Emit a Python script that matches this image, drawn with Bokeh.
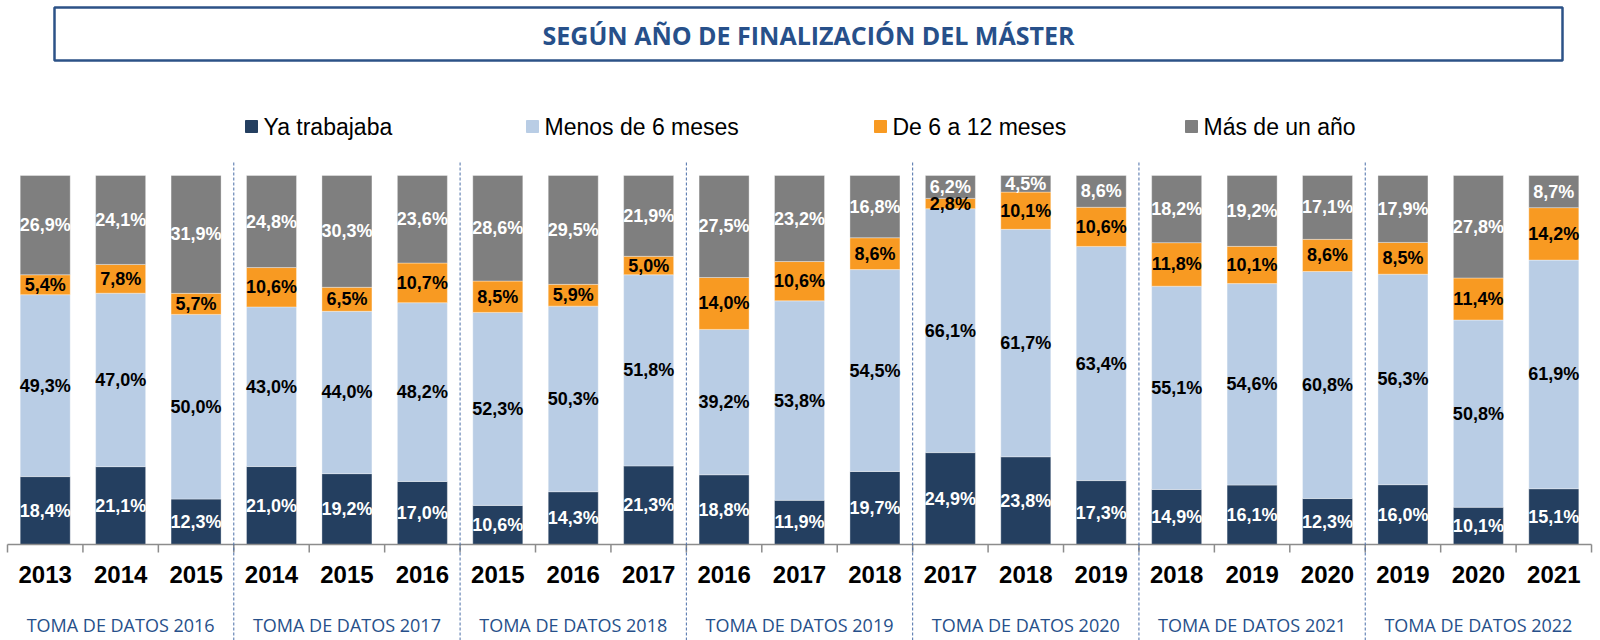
import numpy as np
from bokeh.plotting import figure
from bokeh.models import ColumnDataSource
from bokeh.core.properties import value
from bokeh.embed import file_html
from bokeh.resources import INLINE

# ---------------- data ----------------
title_text = "SEGÚN AÑO DE FINALIZACIÓN DEL MÁSTER"
series_names = ["Ya trabajaba", "Menos de 6 meses", "De 6 a 12 meses", "Más de un año"]
group_labels = ["TOMA DE DATOS 2016", "TOMA DE DATOS 2017", "TOMA DE DATOS 2018",
                "TOMA DE DATOS 2019", "TOMA DE DATOS 2020", "TOMA DE DATOS 2021",
                "TOMA DE DATOS 2022"]
years = ["2013", "2014", "2015", "2014", "2015", "2016", "2015", "2016", "2017",
         "2016", "2017", "2018", "2017", "2018", "2019", "2018", "2019", "2020",
         "2019", "2020", "2021"]
ya_trabajaba = [18.4, 21.1, 12.3, 21.0, 19.2, 17.0, 10.6, 14.3, 21.3, 18.8, 11.9,
                19.7, 24.9, 23.8, 17.3, 14.9, 16.1, 12.3, 16.0, 10.1, 15.1]
menos_6_meses = [49.3, 47.0, 50.0, 43.0, 44.0, 48.2, 52.3, 50.3, 51.8, 39.2, 53.8,
                 54.5, 66.1, 61.7, 63.4, 55.1, 54.6, 60.8, 56.3, 50.8, 61.9]
de_6_a_12 = [5.4, 7.8, 5.7, 10.6, 6.5, 10.7, 8.5, 5.9, 5.0, 14.0, 10.6,
             8.6, 2.8, 10.1, 10.6, 11.8, 10.1, 8.6, 8.5, 11.4, 14.2]
mas_de_un_ano = [26.9, 24.1, 31.9, 24.8, 30.3, 23.6, 28.6, 29.5, 21.9, 27.5, 23.2,
                 16.8, 6.2, 4.5, 8.6, 18.2, 19.2, 17.1, 17.9, 27.8, 8.7]

# ---------------- style / layout ----------------
colors = ["#243F60", "#B9CDE5", "#F89A22", "#7F7F7F"]
label_colors = ["white", "black", "black", "white"]
blue_text = "#27508A"

W, H = 1600, 640
OFF = 0            # observed page offset of the canvas
X0, CW = 7.0, 75.43   # page x of first category edge, category width (px)
Y0, PY = 544.0, 3.69  # page y of 0 %, px per %


def dx(px):
    return (px - X0) / CW


def dy(py):
    return (Y0 - py) / PY


p = figure(width=W, height=H, x_range=(dx(OFF), dx(OFF + W)),
           y_range=(dy(OFF + H), dy(OFF)), output_backend="svg",
           toolbar_location=None, x_axis_location=None, y_axis_location=None,
           min_border=0)
p.grid.visible = False
p.outline_line_color = None
p.background_fill_color = "white"
p.border_fill_color = "white"

n = len(years)
xs = np.arange(n) + 0.5
raw = np.array([ya_trabajaba, menos_6_meses, de_6_a_12, mas_de_un_ano])
pct = raw / raw.sum(axis=0) * 100.0
keys = ["ya", "menos", "de", "mas"]
src = ColumnDataSource(dict(x=xs, **{k: pct[i] for i, k in enumerate(keys)}))
p.vbar_stack(keys, x="x", width=0.663, color=colors, line_color="white",
             line_alpha=0.35, line_width=1, source=src)

# data labels
bottoms = np.vstack([np.zeros(n), np.cumsum(pct, axis=0)[:-1]])
for i in range(4):
    yc = bottoms[i] + pct[i] / 2
    txt = [f"{v:.1f}".replace(".", ",") + "%" for v in raw[i]]
    p.text(x=xs, y=yc, text=txt, text_align="center", text_baseline="middle",
           text_font=value("Liberation Sans"), text_font_size="18px",
           text_font_style="bold", text_color=label_colors[i])

# category axis
p.segment(x0=[0], y0=[0], x1=[n], y1=[0], line_color="#8C8C8C", line_width=1.5)
ticks = np.arange(n + 1)
p.segment(x0=ticks, y0=np.zeros(n + 1), x1=ticks, y1=np.full(n + 1, dy(Y0 + 8)),
          line_color="#8C8C8C", line_width=1.5)
p.text(x=xs, y=np.full(n, dy(574)), text=years, text_align="center",
       text_baseline="middle", text_font=value("Liberation Sans"),
       text_font_size="24px", text_font_style="bold", text_color="black")

# group separators
seps = np.arange(3, n, 3)
p.segment(x0=seps, y0=np.full(len(seps), dy(162)), x1=seps,
          y1=np.full(len(seps), dy(OFF + H + 2)), line_color="#4A6EA8",
          line_width=1, line_dash="3 2")

# group labels
gx = np.arange(len(group_labels)) * 3 + 1.5
p.text(x=gx, y=np.full(len(gx), dy(624)), text=group_labels, text_align="center",
       text_baseline="middle", text_font=value("Open Sans"), text_font_size="18px",
       text_color=blue_text)

# title box
p.quad(left=[dx(54)], right=[dx(1562)], top=[dy(7)], bottom=[dy(60)],
       fill_color=None, line_color="#2C5287", line_width=2.5)
p.text(x=[dx(808)], y=[dy(34)], text=[title_text], text_align="center",
       text_baseline="middle", text_font=value("Open Sans"), text_font_size="25px",
       text_font_style="bold", text_color=blue_text)

# legend
sq_px = [251, 532, 880, 1191]
p.scatter(x=[dx(v) for v in sq_px], y=[dy(126)] * 4, marker="square", size=12,
          color=colors)
p.text(x=[dx(v + 12) for v in sq_px], y=[dy(126)] * 4, text=series_names,
       text_align="left", text_baseline="middle",
       text_font=value("Liberation Sans"), text_font_size="23px",
       text_color="black")

open("out.html", "w").write(file_html(p, INLINE))
